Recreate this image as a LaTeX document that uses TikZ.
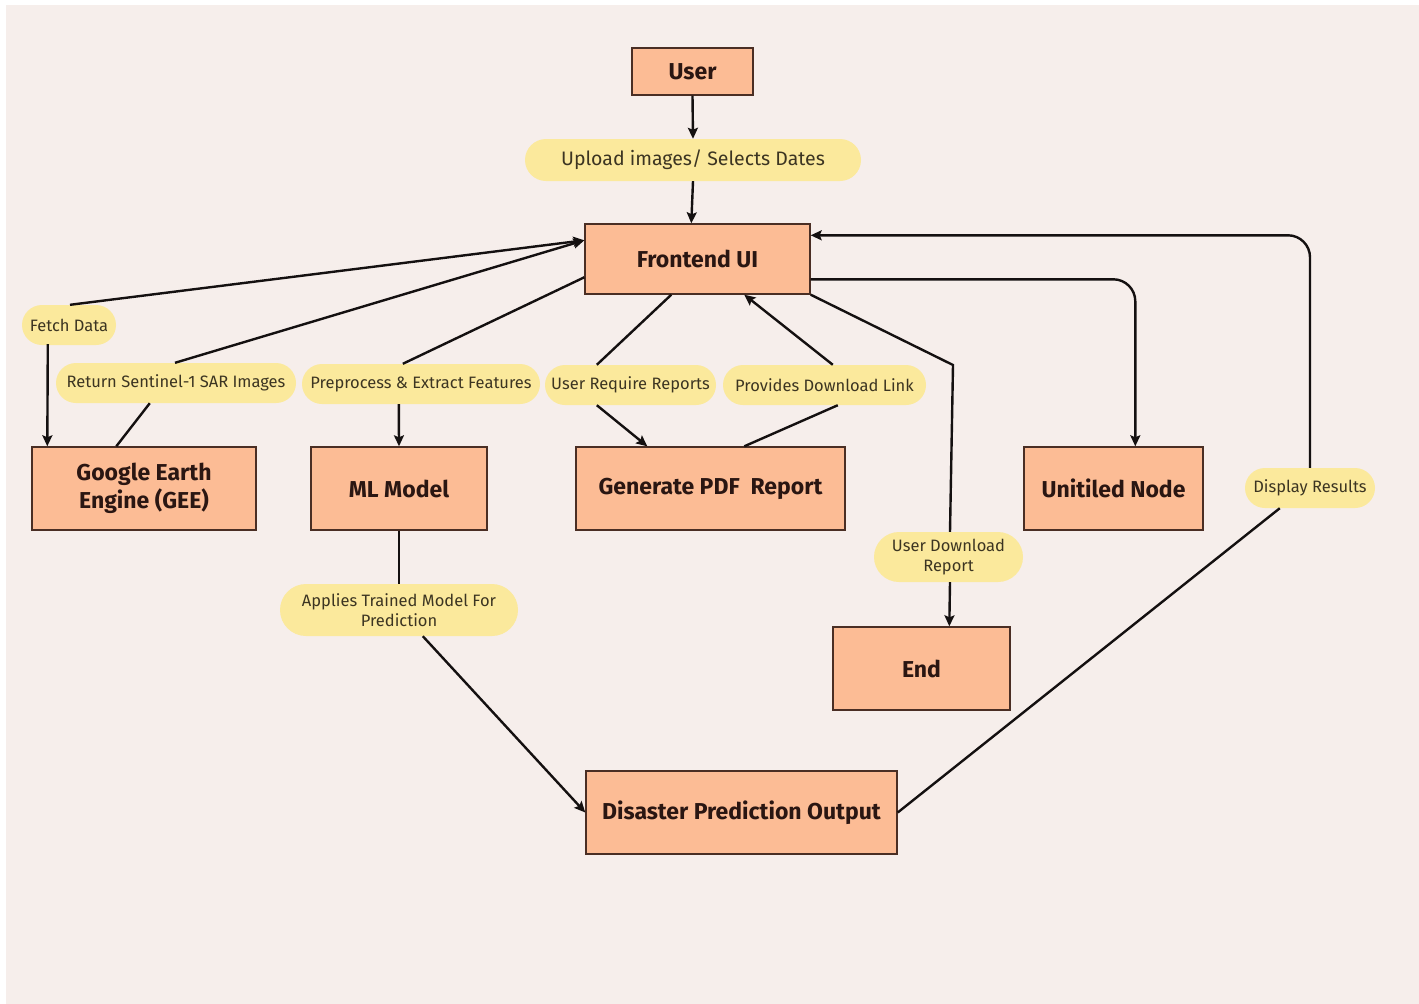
\documentclass[tikz,border=0pt]{standalone}
\usepackage{fontspec}
\setmainfont{Fira Sans}
\usetikzlibrary{arrows.meta,calc}
\definecolor{bgc}{HTML}{F6EEEB}
\definecolor{peach}{HTML}{FCBC95}
\definecolor{boxline}{HTML}{4A2E24}
\definecolor{pilly}{HTML}{FBE99C}
\definecolor{ntext}{HTML}{2A1612}
\definecolor{ltext}{HTML}{3C3522}
\definecolor{conn}{HTML}{141010}
\tikzset{
  box/.style={draw=boxline, fill=peach, line width=1.4pt, text=ntext, inner sep=0pt,
    align=center, font=\bfseries\fontsize{23}{28}\selectfont},
  pill/.style={fill=pilly, text=ltext, inner sep=0pt, align=center,
    font=\fontsize{16.5}{20.5}\selectfont},
  conline/.style={draw=conn, line width=2.4pt},
  arr/.style={conline, -{Stealth[length=11pt,width=10pt,inset=2pt]}},
}
\begin{document}
\begin{tikzpicture}[x=1pt,y=-1pt]
\useasboundingbox (0,0) rectangle (1419,1004);
\fill[white] (0,0) rectangle (1419,1004);
\fill[bgc] (6,5) rectangle (1419,1004);

% boxes
\node[box, minimum width=121pt, minimum height=47pt] (user) at (692.5,71.5) {User};
\node[box, minimum width=225pt, minimum height=70pt] (fe) at (697.5,259) {Frontend UI};
\node[box, minimum width=224pt, minimum height=83pt] (gee) at (144,488.5) {Google Earth\\Engine (GEE)};
\node[box, minimum width=176pt, minimum height=83pt] (ml) at (399,488.5) {ML Model};
\node[box, minimum width=269pt, minimum height=83pt] (pdf) at (710.5,488.5) {Generate PDF\ \ Report};
\node[box, minimum width=179pt, minimum height=83pt] (un) at (1113.5,488.5) {Unitiled Node};
\node[box, minimum width=177pt, minimum height=83pt] (end) at (921.5,668.5) {End};
\node[box, minimum width=311pt, minimum height=83pt] (dpo) at (741.5,812.5) {Disaster Prediction Output};

% pills
\node[pill, minimum width=336pt, minimum height=42pt, rounded corners=21pt, font=\fontsize{19.5}{24}\selectfont] (upl) at (693,160) {Upload images/ Selects Dates};
\node[pill, minimum width=94pt, minimum height=40pt, rounded corners=20pt] (fetch) at (69,325) {Fetch Data};
\node[pill, minimum width=240pt, minimum height=40pt, rounded corners=20pt] (ret) at (176,383) {Return Sentinel-1 SAR Images};
\node[pill, minimum width=238pt, minimum height=40pt, rounded corners=20pt] (pre) at (421,384) {Preprocess \& Extract Features};
\node[pill, minimum width=171pt, minimum height=40pt, rounded corners=20pt] (urr) at (630.5,385) {User Require Reports};
\node[pill, minimum width=203pt, minimum height=40pt, rounded corners=20pt] (pdl) at (824.5,385) {Provides Download Link};
\node[pill, minimum width=130pt, minimum height=40pt, rounded corners=20pt] (dr) at (1310,488) {Display Results};
\node[pill, minimum width=149pt, minimum height=50pt, rounded corners=25pt] (udr) at (948.5,557) {User Download\\Report};
\node[pill, minimum width=238pt, minimum height=52pt, rounded corners=26pt] (app) at (399,610) {Applies Trained Model For\\Prediction};

\coordinate (bend1) at (953,365);

% connectors
\draw[arr] (user.south) -- (upl.north);
\draw[arr] (upl.south) -- ($(fe.north west)+(107,0)$);
\draw[arr] ($(fetch.north)+(1,0)$) -- ($(fe.north west)+(0,17)$);
\draw[arr] ($(fetch.south west)+(26,-1)$) -- ($(gee.north west)+(16,0)$);
\draw[conline] ($(gee.north west)+(85,0)$) -- ($(ret.south west)+(94,0)$);
\draw[arr] ($(ret.north)+(-1,0)$) -- ($(fe.north west)+(0,17)$);
\draw[conline] ($(fe.north west)+(0,54)$) -- ($(pre.north west)+(101,0)$);
\draw[arr] ($(pre.south west)+(97,0)$) -- (ml.north);
\draw[conline] ($(fe.south west)+(87,0)$) -- ($(urr.north west)+(52,0)$);
\draw[arr] ($(urr.south west)+(52,0)$) -- ($(pdf.north west)+(72,0)$);
\draw[conline] ($(pdf.north west)+(169,0)$) -- ($(pdl.south west)+(115,0)$);
\draw[arr] ($(pdl.north west)+(110,0)$) -- ($(fe.south west)+(160,0)$);
\draw[conline] (fe.south east) -- (bend1) -- ($(udr.north)+(1.5,0)$);
\draw[arr] ($(udr.south)+(1.5,0)$) -- ($(end.north west)+(117,0)$);
\draw[arr, rounded corners=22pt] ($(fe.north east)+(0,56)$) -| ($(un.north west)+(112,0)$);
\draw[conline] (dpo.east) -- ($(dr.south west)+(35,0)$);
\draw[arr, rounded corners=22pt] (dr.north) |- ($(fe.north east)+(0,12)$);
\draw[conline] (ml.south) -- (app.north);
\draw[arr] ($(app.south west)+(143,0)$) -- (dpo.west);
\end{tikzpicture}
\end{document}
